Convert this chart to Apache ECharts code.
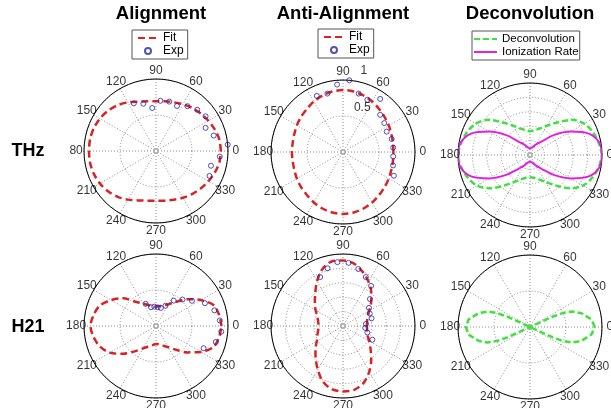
<!DOCTYPE html>
<html><head><meta charset="utf-8">
<script src="https://cdn.jsdelivr.net/npm/echarts@6/dist/echarts.min.js"></script>
<style>html,body{margin:0;padding:0;background:#fff}#c{width:611px;height:408px}</style>
</head><body><div id="c"></div>
<script>
// ---- tick labels ----
const angleTicks = [0,30,60,90,120,150,180,210,240,270,300,330];
const angleTickLabels = ['0','30','60','90','120','150','180','210','240','270','300','330'];
const angleTickLabelsCropped = ['0','30','60','90','120','150','80','210','240','270','300','330'];
const radialTickText = ['0.5','1'];
const radialTickPos = [[0.67,66.5],[1.17,75.6]];
const centerMark = [[0,0]];

// ---- angles (degrees) ----
const fitAngles = [0,10,20,30,40,50,60,70,80,90,100,110,120,130,140,150,160,170,180,190,200,210,220,230,240,250,260,270,280,290,300,310,320,330,340,350,360];
const expAngles = [115,105,95,85,75,65,55,45,35,25,15,5,355,345,335];

// ---- THz, Alignment ----
const alignThzFit = [0.90,0.895,0.87,0.84,0.81,0.78,0.75,0.72,0.70,0.69,0.70,0.73,0.78,0.83,0.87,0.90,0.92,0.93,0.93,0.93,0.92,0.90,0.87,0.83,0.78,0.73,0.70,0.69,0.70,0.72,0.75,0.78,0.81,0.84,0.87,0.895,0.90];
const alignThzExp = [0.73,0.68,0.60,0.70,0.71,0.69,0.76,0.81,0.84,0.76,0.83,1.00,0.89,0.79,0.82];
// ---- THz, Anti-Alignment ----
const antiThzFit = [0.70,0.705,0.715,0.735,0.755,0.78,0.81,0.835,0.853,0.86,0.853,0.835,0.81,0.78,0.76,0.74,0.72,0.71,0.71,0.71,0.72,0.74,0.76,0.78,0.81,0.835,0.853,0.86,0.853,0.835,0.81,0.78,0.755,0.735,0.715,0.705,0.70];
const antiThzExp = [0.86,0.84,0.94,1.00,0.84,0.80,0.90,0.73,0.70,0.67,0.70,0.70,0.70,0.72,0.78];
// ---- THz, Deconvolution ----
const deconvThz = [1.00,0.97,0.93,0.87,0.76,0.59,0.47,0.39,0.35,0.33,0.35,0.39,0.47,0.59,0.76,0.87,0.93,0.97,1.00,0.97,0.92,0.85,0.72,0.55,0.43,0.36,0.32,0.31,0.32,0.36,0.43,0.55,0.72,0.85,0.92,0.97,1.00];
const ionRateThz = [1.00,0.98,0.87,0.65,0.43,0.24,0.17,0.12,0.10,0.09,0.10,0.12,0.17,0.24,0.43,0.65,0.87,0.98,1.00,0.98,0.87,0.65,0.43,0.25,0.17,0.12,0.10,0.09,0.10,0.12,0.17,0.25,0.43,0.65,0.87,0.98,1.00];

// ---- H21, Alignment ----
const alignH21Fit = [0.91,0.89,0.85,0.72,0.58,0.44,0.35,0.30,0.28,0.27,0.28,0.31,0.36,0.44,0.60,0.72,0.83,0.88,0.91,0.88,0.83,0.74,0.60,0.46,0.36,0.30,0.27,0.25,0.26,0.29,0.34,0.43,0.57,0.72,0.85,0.89,0.91];
const alignH21Exp = [0.34,0.27,0.27,0.26,0.26,0.31,0.43,0.52,0.61,0.75,0.84,0.89,0.91,0.86,0.73];
// ---- H21, Anti-Alignment ----
const antiH21Fit = [0.33,0.34,0.36,0.42,0.51,0.61,0.71,0.80,0.88,0.91,0.91,0.84,0.72,0.60,0.51,0.44,0.38,0.35,0.34,0.35,0.38,0.42,0.50,0.59,0.70,0.82,0.89,0.91,0.90,0.84,0.73,0.61,0.50,0.42,0.36,0.34,0.33];
const antiH21Exp = [0.75,0.83,0.89,0.88,0.82,0.75,0.68,0.53,0.44,0.41,0.41,0.32,0.31,0.35,0.45];
// ---- H21, Deconvolution (figure-eight) ----
const deconvH21Angles = [0,7,15,20,23,24.5,25,25,205,205,204.5,203,200,195,187,180,173,165,160,157,155.5,155,155,335,335,335.5,337,340,345,353,360];
const deconvH21 = [0.90,0.86,0.74,0.63,0.50,0.35,0.17,0,0,0.17,0.35,0.50,0.63,0.74,0.86,0.89,0.86,0.74,0.63,0.50,0.35,0.17,0,0,0.17,0.35,0.50,0.63,0.74,0.86,0.90];

const FONT = "'Liberation Sans', Arial, sans-serif";
const RED = '#d92323', BLUE = '#2626a8', GREEN = '#3ee23e', MAG = '#e41fe4';

const centers = [[156,151],[343,152],[530,155],[156,326],[343,326],[530,327]];
const ringStep = [0.5,0.5,0.2,0.5,0.2,0.5];

function pairs(rs, as){ return rs.map((r,i)=>[r, as[i]]); }

const series = [];
function fit(idx, name, rs, as, color, width, dash, smooth){
  series.push({type:'line', name, coordinateSystem:'polar', polarIndex:idx, data:pairs(rs,as),
    symbol:'none', smooth: smooth, clip:false, z:3, silent:true,
    lineStyle:{color, width, type:dash}, itemStyle:{color}});
}
function exp(idx, rs){
  series.push({type:'scatter', name:'Exp', coordinateSystem:'polar', polarIndex:idx, data:pairs(rs,expAngles),
    symbol:'circle', symbolSize:5, clip:false, z:4, silent:true,
    itemStyle:{color:'rgba(255,255,255,0)', borderColor:BLUE, borderWidth:1}});
}
function angleLabels(idx, labels){
  series.push({type:'scatter', coordinateSystem:'polar', polarIndex:idx, clip:false, silent:true, z:5,
    symbolSize:1, itemStyle:{color:'rgba(0,0,0,0)'},
    data: angleTicks.map((a,i)=>({name:labels[i], value:[1.11, a]})),
    label:{show:true, position:'inside', formatter:'{b}', color:'#000', fontSize:12, fontFamily:FONT}});
  series.push({type:'scatter', coordinateSystem:'polar', polarIndex:idx, clip:false, silent:true, z:2,
    symbol:'circle', symbolSize:4, data:centerMark,
    itemStyle:{color:'rgba(255,255,255,0)', borderColor:'#8c8c8c', borderWidth:1}});
}

fit(0,'Fit',alignThzFit,fitAngles,RED,2.5,[7,4],0.3); exp(0,alignThzExp);
fit(1,'Fit',antiThzFit,fitAngles,RED,2.5,[7,4],0.3); exp(1,antiThzExp);
fit(2,'Deconvolution',deconvThz,fitAngles,GREEN,2.5,[6,3],0.3);
fit(2,'Ionization Rate',ionRateThz,fitAngles,MAG,2,'solid',0.3);
fit(3,'Fit',alignH21Fit,fitAngles,RED,2.5,[7,4],0.3); exp(3,alignH21Exp);
fit(4,'Fit',antiH21Fit,fitAngles,RED,2.5,[7,4],0.3); exp(4,antiH21Exp);
fit(5,'Deconvolution',deconvH21,deconvH21Angles,GREEN,2.5,[6,3],false);
angleLabels(0, angleTickLabelsCropped);
for (let i=1;i<6;i++) angleLabels(i, angleTickLabels);
series.push({type:'scatter', coordinateSystem:'polar', polarIndex:1, clip:false, silent:true, z:5,
  symbolSize:1, itemStyle:{color:'rgba(0,0,0,0)'},
  data: radialTickText.map((t,i)=>({name:t, value:radialTickPos[i]})),
  label:{show:true, position:'inside', formatter:'{b}', color:'#000', fontSize:12, fontFamily:FONT}});

const gridLine = {color:'#8c8c8c', width:1, type:[1,2]};
const noSym = {opacity:0};
const legendCommon = {orient:'vertical', itemGap:1, itemHeight:6, borderColor:'#555', borderWidth:1,
  backgroundColor:'#fff', selectedMode:false};
const option = {
  animation:false,
  backgroundColor:'#fff',
  polar: centers.map(c=>({center:c, radius:72})),
  angleAxis: centers.map((c,i)=>({polarIndex:i, type:'value', min:0, max:360, interval:30, startAngle:0, clockwise:false,
    axisLine:{show:true, lineStyle:{color:'#000', width:1}}, axisTick:{show:false}, axisLabel:{show:false},
    splitLine:{show:true, lineStyle:gridLine}, z:1})),
  radiusAxis: centers.map((c,i)=>({polarIndex:i, type:'value', min:0, max:1, interval:ringStep[i],
    axisLine:{show:false}, axisTick:{show:false}, axisLabel:{show:false},
    splitLine:{show:true, lineStyle:gridLine}, z:0})),
  legend: [
    Object.assign({data:[{name:'Fit', itemStyle:noSym},'Exp'], left:132, top:30, padding:[2,4,2,5], itemWidth:20,
      textStyle:{fontSize:12, color:'#000', fontFamily:FONT}}, legendCommon),
    Object.assign({data:[{name:'Fit', itemStyle:noSym},'Exp'], left:318, top:29, padding:[2,4,2,5], itemWidth:20,
      textStyle:{fontSize:12, color:'#000', fontFamily:FONT}}, legendCommon),
    Object.assign({data:[{name:'Deconvolution', itemStyle:noSym},{name:'Ionization Rate', itemStyle:noSym}], left:472, top:31,
      padding:[2,1,2,1], itemWidth:23, textStyle:{fontSize:11.5, color:'#000', fontFamily:FONT}}, legendCommon)
  ],
  graphic: [
    {type:'text', x:161, y:14, style:{text:'Alignment', font:'bold 18.5px '+FONT, fill:'#000', align:'center', verticalAlign:'middle'}},
    {type:'text', x:343, y:14, style:{text:'Anti-Alignment', font:'bold 18.5px '+FONT, fill:'#000', align:'center', verticalAlign:'middle'}},
    {type:'text', x:530, y:14, style:{text:'Deconvolution', font:'bold 18.5px '+FONT, fill:'#000', align:'center', verticalAlign:'middle'}},
    {type:'text', x:28, y:151, style:{text:'THz', font:'bold 18px '+FONT, fill:'#000', align:'center', verticalAlign:'middle'}},
    {type:'text', x:28, y:327, style:{text:'H21', font:'bold 18px '+FONT, fill:'#000', align:'center', verticalAlign:'middle'}}
  ],
  series
};
const chart = echarts.init(document.getElementById('c'), null, {renderer:'canvas'});
chart.setOption(option);
</script>
</body></html>
